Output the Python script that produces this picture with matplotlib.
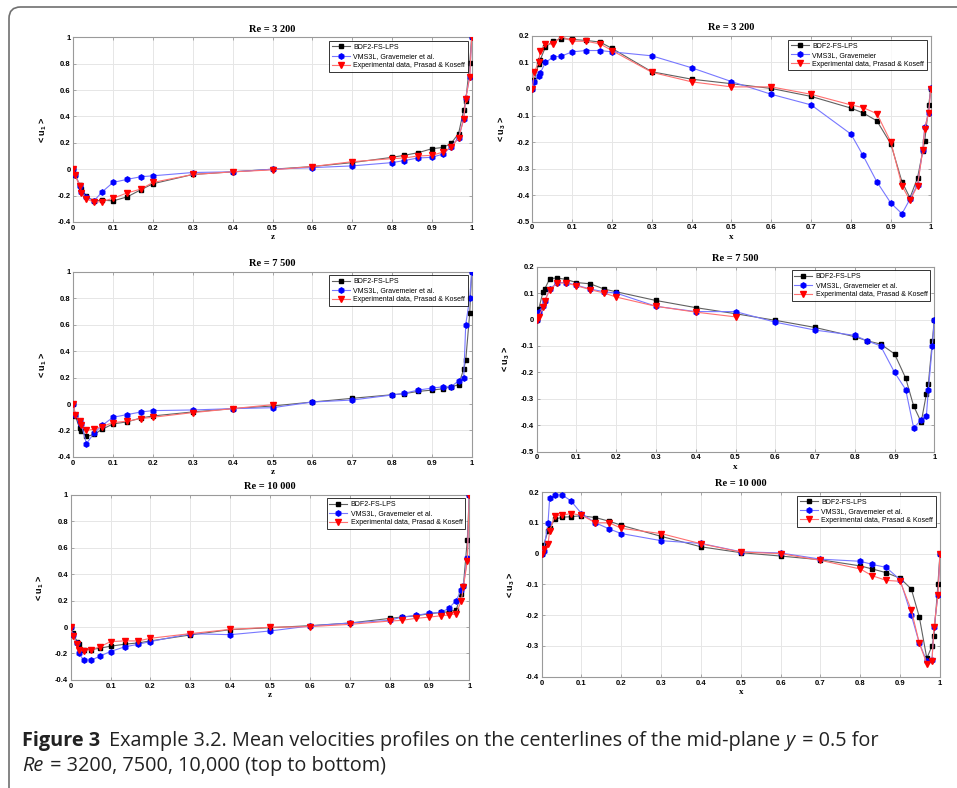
import matplotlib
matplotlib.use("Agg")
import matplotlib.pyplot as plt
import matplotlib.font_manager as fm
from matplotlib.patches import FancyBboxPatch
from matplotlib.ticker import FuncFormatter, MultipleLocator

# sampling positions along the centerline (Prasad & Koseff stations)
pos = [0, 0.005, 0.016, 0.02, 0.033, 0.052, 0.073, 0.1, 0.135, 0.17, 0.2, 0.3, 0.4,
       0.5, 0.6, 0.7, 0.8, 0.83, 0.865, 0.9, 0.928, 0.948, 0.967, 0.98, 0.985, 0.995, 1]

# Re = 3200
u1_3200_bdf = [0, -0.045, -0.12, -0.15, -0.205, -0.24, -0.235, -0.24, -0.21, -0.155, -0.11, -0.04, -0.02,
               0, 0.02, 0.05, 0.09, 0.105, 0.125, 0.155, 0.165, 0.195, 0.27, 0.45, 0.515, 0.805, 1]
u1_3200_vms = [0, -0.045, -0.125, -0.17, -0.21, -0.24, -0.17, -0.10, -0.077, -0.057, -0.05, -0.025, -0.02,
               0, 0.012, 0.025, 0.05, 0.065, 0.085, 0.09, 0.115, 0.17, 0.24, 0.38, 0.54, 0.70, 1]
u1_3200_exp = [0, -0.045, -0.125, -0.18, -0.225, -0.25, -0.245, -0.22, -0.18, -0.15, -0.10, -0.04, -0.02,
               -0.005, 0.02, 0.057, 0.08, 0.085, 0.10, 0.105, 0.13, 0.165, 0.235, 0.38, 0.535, 0.70, 1]
u3_3200_bdf = [0, 0.035, 0.095, 0.11, 0.158, 0.18, 0.19, 0.187, 0.183, 0.177, 0.153, 0.065, 0.037,
               0.02, 0.002, -0.028, -0.072, -0.09, -0.12, -0.207, -0.35, -0.41, -0.335, -0.235, -0.197, -0.062, 0]
u3_3200_vms = [0, 0.025, 0.05, 0.06, 0.10, 0.12, 0.124, 0.14, 0.145, 0.145, 0.14, 0.125, 0.08,
               0.028, -0.02, -0.06, -0.17, -0.25, -0.35, -0.43, -0.47, -0.415, -0.36, -0.23, -0.145, -0.09, 0.005]
u3_3200_exp = [0, 0.065, 0.10, 0.145, 0.168, 0.17, 0.198, 0.18, 0.18, 0.17, 0.145, 0.063, 0.027,
               0.008, 0.008, -0.02, -0.06, -0.07, -0.093, -0.20, -0.365, -0.42, -0.365, -0.23, -0.15, -0.09, 0]

# Re = 7500 (experimental data only up to 0.5)
u1_7500_bdf = [0, -0.09, -0.185, -0.205, -0.245, -0.23, -0.19, -0.15, -0.135, -0.105, -0.09, -0.06, -0.035,
               -0.015, 0.015, 0.043, 0.07, 0.078, 0.095, 0.105, 0.115, 0.13, 0.145, 0.265, 0.33, 0.685, 1]
u1_7500_vms = [0, -0.08, -0.13, -0.15, -0.30, -0.22, -0.16, -0.10, -0.08, -0.06, -0.05, -0.045, -0.035,
               -0.028, 0.015, 0.03, 0.068, 0.08, 0.105, 0.12, 0.13, 0.13, 0.175, 0.20, 0.60, 0.80, 1]
u1_7500_exp = [0, -0.085, -0.13, -0.16, -0.20, -0.19, -0.17, -0.14, -0.13, -0.11, -0.10, -0.065, -0.035,
               -0.005]
u3_7500_bdf = [0, 0.04, 0.105, 0.115, 0.155, 0.157, 0.152, 0.14, 0.135, 0.115, 0.105, 0.072, 0.045,
               0.022, -0.003, -0.03, -0.065, -0.08, -0.093, -0.13, -0.222, -0.327, -0.388, -0.282, -0.243, -0.082, 0]
u3_7500_vms = [0, 0.03, 0.05, 0.07, 0.115, 0.14, 0.14, 0.13, 0.115, 0.105, 0.10, 0.05, 0.03,
               0.03, -0.01, -0.04, -0.06, -0.08, -0.10, -0.20, -0.265, -0.41, -0.38, -0.365, -0.265, -0.10, 0]
u3_7500_exp = [0, 0.01, 0.048, 0.07, 0.113, 0.138, 0.138, 0.128, 0.113, 0.10, 0.085, 0.05, 0.028,
               0.01]

# Re = 10000
u1_10000_bdf = [0, -0.045, -0.11, -0.13, -0.17, -0.17, -0.16, -0.145, -0.13, -0.12, -0.105, -0.06, -0.02,
                -0.005, 0.01, 0.03, 0.065, 0.075, 0.085, 0.10, 0.11, 0.115, 0.13, 0.25, 0.31, 0.66, 1]
u1_10000_vms = [0, -0.06, -0.12, -0.20, -0.25, -0.25, -0.22, -0.185, -0.15, -0.13, -0.11, -0.05, -0.058,
                -0.03, 0.008, 0.03, 0.05, 0.075, 0.087, 0.105, 0.11, 0.14, 0.20, 0.28, 0.31, 0.52, 1]
u1_10000_exp = [0, -0.07, -0.125, -0.175, -0.18, -0.17, -0.15, -0.11, -0.105, -0.105, -0.085, -0.05, -0.018,
                -0.002, 0.003, 0.02, 0.045, 0.05, 0.065, 0.075, 0.085, 0.09, 0.10, 0.20, 0.30, 0.50, 1]
u3_10000_bdf = [0, 0.027, 0.075, 0.083, 0.112, 0.118, 0.12, 0.123, 0.117, 0.105, 0.092, 0.056, 0.022,
                0.003, -0.008, -0.02, -0.04, -0.05, -0.062, -0.08, -0.115, -0.205, -0.34, -0.30, -0.268, -0.098, 0]
u3_10000_vms = [0, 0.01, 0.10, 0.18, 0.19, 0.19, 0.172, 0.13, 0.10, 0.08, 0.065, 0.042, 0.033,
                0.006, 0.002, -0.018, -0.025, -0.035, -0.045, -0.085, -0.20, -0.29, -0.35, -0.345, -0.24, -0.135, 0]
u3_10000_exp = [0, 0.015, 0.03, 0.073, 0.122, 0.125, 0.13, 0.125, 0.10, 0.10, 0.082, 0.065, 0.032,
                0.005, 0.0, -0.022, -0.05, -0.072, -0.087, -0.09, -0.183, -0.29, -0.358, -0.348, -0.24, -0.135, 0]

titles = ["Re = 3 200", "Re = 7 500", "Re = 10 000"]
labels_vms = ["VMS3L, Gravemeier et al.", "VMS3L, Gravemeier"]

plt.rcParams['font.family'] = ['Liberation Sans', 'DejaVu Sans']
plt.rcParams['mathtext.fontset'] = 'custom'
plt.rcParams['mathtext.rm'] = 'Liberation Sans:bold'
plt.rcParams['mathtext.it'] = 'Liberation Sans:bold'

fig = plt.figure(figsize=(9.57, 7.88), dpi=100)

# axes boxes in figure fractions [left, bottom, width, height]
boxes = [
    ([0.0766, 0.7183, 0.4163, 0.2344], [0.5562, 0.7187, 0.4163, 0.2357]),
    ([0.0766, 0.4201, 0.4163, 0.2352], [0.5608, 0.4268, 0.4155, 0.2348]),
    ([0.0739, 0.1371, 0.4165, 0.2352], [0.5660, 0.1412, 0.4162, 0.2344]),
]

panels = [
    (u1_3200_bdf, u1_3200_vms, u1_3200_exp, u3_3200_bdf, u3_3200_vms, u3_3200_exp, (-0.5, 0.2)),
    (u1_7500_bdf, u1_7500_vms, u1_7500_exp, u3_7500_bdf, u3_7500_vms, u3_7500_exp, (-0.5, 0.2)),
    (u1_10000_bdf, u1_10000_vms, u1_10000_exp, u3_10000_bdf, u3_10000_vms, u3_10000_exp, (-0.4, 0.2)),
]


def fmt(v, p):
    s = f"{round(v, 3):g}"
    return "0" if s == "-0" else s


def draw(ax, bdf, vms, exp, ylim, ystep, xlab, ylab, title, vms_label):
    ax.plot(pos[:len(bdf)], bdf, color='#606060', lw=0.8, marker='s', ms=3.2,
            mfc='black', mec='black', label='BDF2-FS-LPS', zorder=3)
    ax.plot(pos[:len(vms)], vms, color='#7777ff', lw=0.8, marker='h', ms=3.8,
            mfc='#0000ff', mec='#0000ff', label=vms_label, zorder=3)
    ax.plot(pos[:len(exp)], exp, color='#ff7070', lw=0.8, marker='v', ms=4.0,
            mfc='#ff0000', mec='#ff0000', label='Experimental data, Prasad & Koseff', zorder=3)
    ax.set_xlim(0, 1)
    ax.set_ylim(*ylim)
    ax.xaxis.set_major_locator(MultipleLocator(0.1))
    ax.yaxis.set_major_locator(MultipleLocator(ystep))
    ax.xaxis.set_major_formatter(FuncFormatter(fmt))
    ax.yaxis.set_major_formatter(FuncFormatter(fmt))
    ax.grid(True, color='#e6e6e6', lw=0.7)
    ax.set_axisbelow(True)
    for s in ax.spines.values():
        s.set_color('#9a9a9a')
        s.set_linewidth(0.8)
    ax.tick_params(direction='in', length=2.5, width=0.6, color='#9a9a9a',
                   labelsize=5.5, pad=2, top=True, right=True)
    for t in ax.get_xticklabels() + ax.get_yticklabels():
        t.set_fontweight('bold')
    ax.set_title(title, family='Liberation Serif', weight='bold', fontsize=7.5, pad=4)
    ax.set_xlabel(xlab, family='Liberation Serif', weight='bold', fontsize=6.5, labelpad=1)
    ax.set_ylabel(ylab, fontsize=6.5, weight='bold', labelpad=6)
    leg = ax.legend(loc='upper right', fontsize=5, frameon=True, fancybox=False,
                    borderaxespad=0.55, handlelength=2.6, handletextpad=0.5,
                    borderpad=0.4, labelspacing=0.3)
    leg.get_frame().set_edgecolor('black')
    leg.get_frame().set_linewidth(0.7)


for i, p in enumerate(panels):
    axl = fig.add_axes(boxes[i][0])
    axr = fig.add_axes(boxes[i][1])
    draw(axl, p[0], p[1], p[2], (-0.4, 1.0), 0.2, 'z', r'< u$_1$ >', titles[i], labels_vms[0])
    draw(axr, p[3], p[4], p[5], p[6], 0.1, 'x', r'< u$_3$ >', titles[i],
         labels_vms[1] if i == 0 else labels_vms[0])

# rounded frame around the figure (left and top visible)
W, H = 957, 788
frame = FancyBboxPatch((9 / W, -0.05), 1.2, 1.05 - 7 / H,
                       boxstyle="round,pad=0,rounding_size=0.012",
                       transform=fig.transFigure, fill=False, edgecolor='#707070',
                       linewidth=1.2, mutation_aspect=W / H, clip_on=False)
fig.patches.append(frame)

# caption, written piece by piece so the italic symbols sit inline
names = {f.name for f in fm.fontManager.ttflist}
cap_font = 'Liberation Sans Narrow' if 'Liberation Sans Narrow' in names else 'Open Sans'
cap_size = 14.3
cap_col = '#222222'

fig.canvas.draw()
r = fig.canvas.get_renderer()


def piece(x, y, s, **kw):
    t = fig.text(x / W, 1 - y / H, s, family=[cap_font, 'DejaVu Sans'], fontsize=cap_size,
                 va='baseline', color=cap_col, **kw)
    return t.get_window_extent(r).x1


x = piece(22, 746, 'Figure 3', weight='bold')
x = piece(x + 9, 746, 'Example 3.2. Mean velocities profiles on the centerlines of the mid-plane ')
x = piece(x, 746, 'y', style='italic')
piece(x + 2, 746, ' = 0.5 for')
x = piece(22, 771, 'Re', style='italic')
piece(x + 2, 771, ' = 3200, 7500, 10,000 (top to bottom)')

fig.savefig('out.png', dpi=100)
